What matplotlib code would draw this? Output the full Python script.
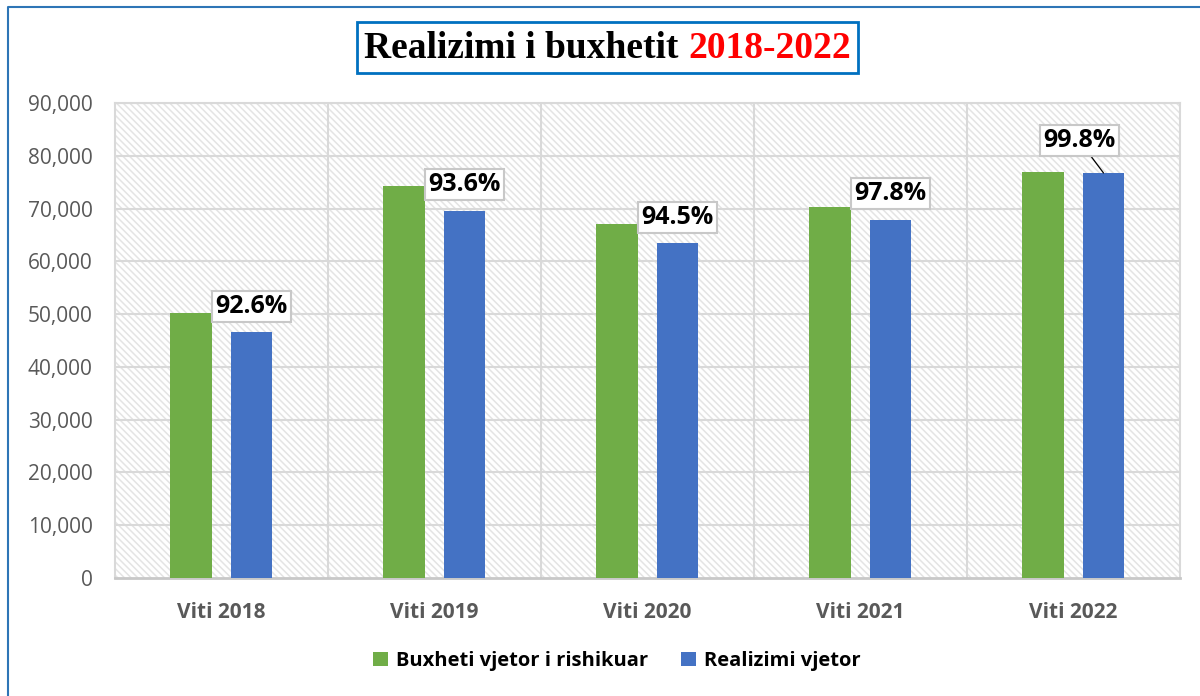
import matplotlib
matplotlib.use("Agg")
import matplotlib.pyplot as plt
import matplotlib.ticker as mticker
from matplotlib.patches import Rectangle
from matplotlib.lines import Line2D
import numpy as np

# ─── Dados ────────────────────────────────────────────────────────────────────
anos = ["Viti 2018", "Viti 2019", "Viti 2020", "Viti 2021", "Viti 2022"]
buxheti = [50300, 74300, 67100, 70300, 76900]
realizimi = [46550, 69550, 63400, 67900, 76750]
perqindje = ["92.6%", "93.6%", "94.5%", "97.8%", "99.8%"]
serie_nomes = ["Buxheti vjetor i rishikuar", "Realizimi vjetor"]

VERDE = "#70ad47"
AZUL = "#4472c4"
CINZA_TXT = "#595959"
CINZA_GRADE = "#d9d9d9"
FONTE = "Open Sans"

plt.rcParams["font.family"] = [FONTE, "DejaVu Sans"]
plt.rcParams["hatch.color"] = "#e4e4e4"
plt.rcParams["hatch.linewidth"] = 1.1

fig = plt.figure(figsize=(12, 6.96), dpi=100)
ax = fig.add_axes([0.0958, 0.1695, 0.8875, 0.6825])

# fundo hachurado
fundo = Rectangle((0, 0), 1, 1, transform=ax.transAxes, facecolor="white",
                  edgecolor="#e4e4e4", hatch="\\" * 5, linewidth=0, zorder=0.5)
ax.add_patch(fundo)

x = np.arange(len(anos))
larg = 0.197
desl = 0.141
ax.bar(x - desl, buxheti, width=larg, color=VERDE, label=serie_nomes[0], zorder=3)
barras_r = ax.bar(x + desl, realizimi, width=larg, color=AZUL, label=serie_nomes[1], zorder=3)

ax.set_xlim(-0.5, len(anos) - 0.5)
ax.set_ylim(0, 90000)
ax.yaxis.set_major_locator(mticker.MultipleLocator(10000))
ax.yaxis.set_major_formatter(mticker.FuncFormatter(lambda v, p: f"{v:,.0f}"))

# grade
for v in range(10000, 90001, 10000):
    ax.axhline(v, color=CINZA_GRADE, linewidth=1.5, zorder=1)
for b in np.arange(0.5, len(anos) - 0.5, 1):
    ax.axvline(b, color=CINZA_GRADE, linewidth=1.5, zorder=1)

for lado in ["top", "left", "right"]:
    ax.spines[lado].set_color(CINZA_GRADE)
    ax.spines[lado].set_linewidth(1.5)
ax.spines["bottom"].set_color("#c8c8c8")
ax.spines["bottom"].set_linewidth(2)
for s in ax.spines.values():
    s.set_zorder(2)

ax.set_xticks(x)
ax.set_xticklabels(anos, fontsize=15, fontweight="bold", color=CINZA_TXT)
ax.tick_params(axis="x", length=0, pad=17)
ax.tick_params(axis="y", length=0, pad=16, labelsize=15, labelcolor=CINZA_TXT)

# rótulos de percentual sobre as barras azuis
for i, (bar, txt) in enumerate(zip(barras_r, perqindje)):
    topo = bar.get_height()
    cx = bar.get_x() + bar.get_width() / 2
    estilo = dict(ha="center", va="center", fontsize=18, fontweight="bold", zorder=5,
                  textcoords="offset pixels",
                  bbox=dict(boxstyle="square,pad=0.12", fc="white", ec="#c8c8c8", lw=1.5))
    if i == len(perqindje) - 1:
        ax.annotate(txt, xy=(cx, topo), xytext=(-24, 32),
                    arrowprops=dict(arrowstyle="-", color="black", lw=0.9, shrinkA=0, shrinkB=0),
                    **estilo)
    else:
        ax.annotate(txt, xy=(cx, topo), xytext=(0, 26), **estilo)

# legenda
fig.legend(loc="center", bbox_to_anchor=(0.514, 1 - 661 / 696), ncol=2, frameon=False,
           handlelength=0.75, handleheight=0.75, handletextpad=0.4, columnspacing=1.6,
           prop=dict(family=FONTE, size=14.5, weight="bold"))

# título em duas cores com moldura
fig.canvas.draw()
rend = fig.canvas.get_renderer()
ty = 1 - 48 / 696
t1 = fig.text(0, ty, "Realizimi i buxhetit ", fontsize=27, fontweight="bold",
              family="Liberation Serif", va="center", ha="left", color="black")
t2 = fig.text(0, ty, "2018-2022", fontsize=27, fontweight="bold",
              family="Liberation Serif", va="center", ha="left", color="#ff0000")
w1 = t1.get_window_extent(rend).width
w2 = t2.get_window_extent(rend).width
total = w1 + w2
x0 = 607.5 - total / 2
t1.set_x(x0 / 1200)
t2.set_x((x0 + w1) / 1200)
pad = 7
fig.patches.append(Rectangle(((x0 - pad) / 1200, 1 - 73 / 696), (total + 2 * pad) / 1200, 51 / 696,
                             transform=fig.transFigure, fill=False, edgecolor="#0070c0", lw=2))

# borda externa azul (esquerda e topo)
fig.lines.append(Line2D([8 / 1200, 8 / 1200, 1], [0, 1 - 7 / 696, 1 - 7 / 696],
                        transform=fig.transFigure, color="#2e75b6", lw=1.5))

fig.savefig("out.png", dpi=100)
